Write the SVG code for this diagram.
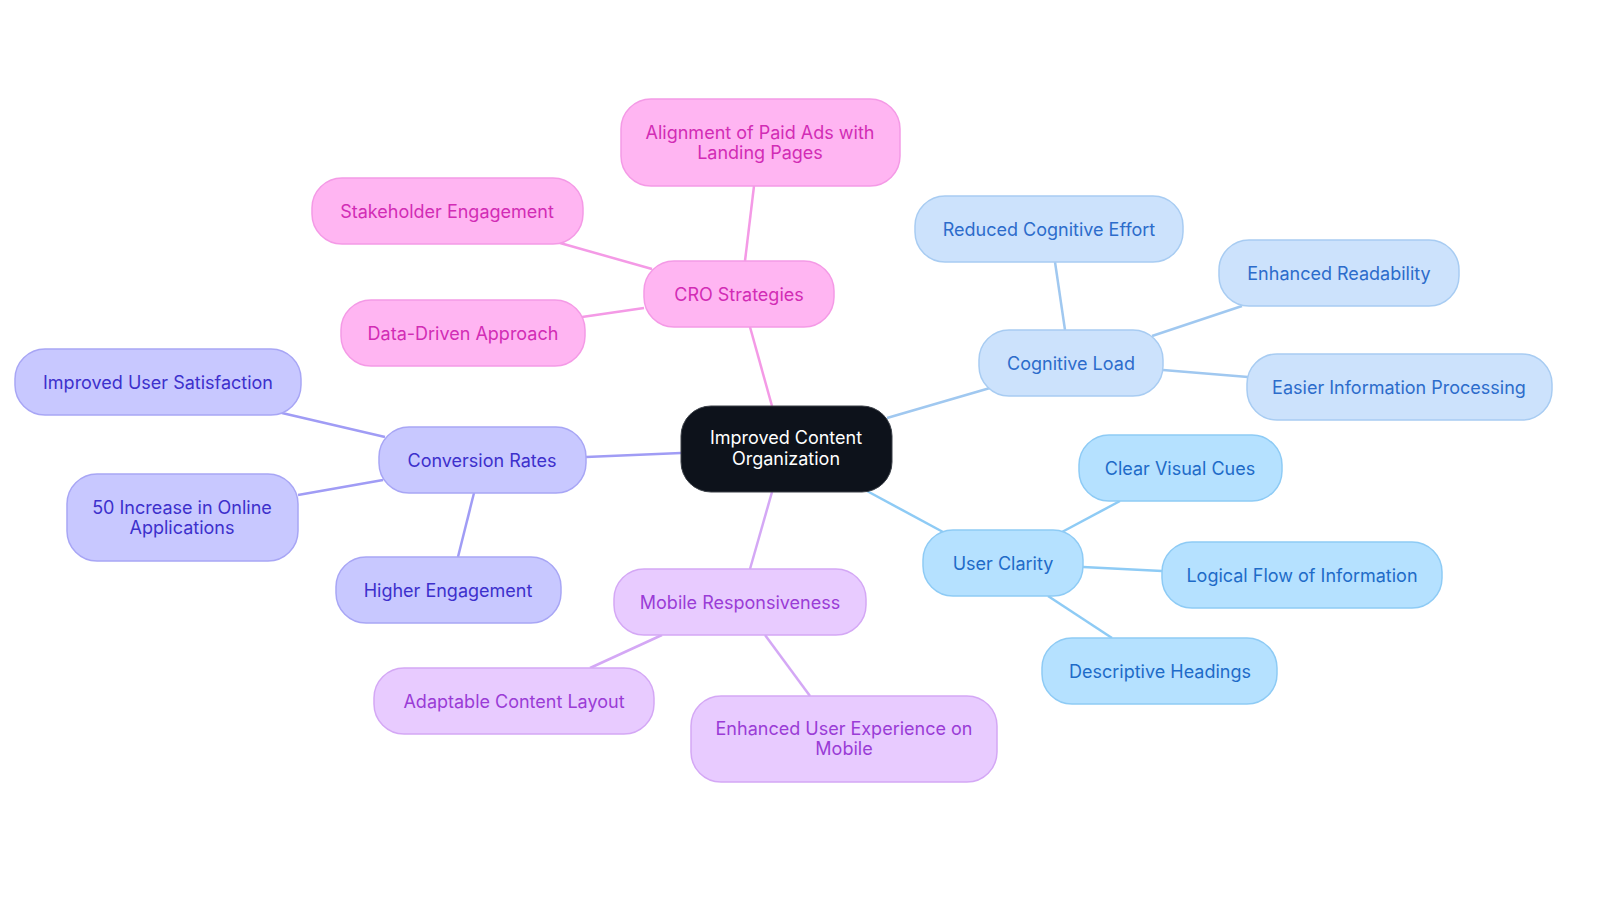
<svg xmlns="http://www.w3.org/2000/svg" width="1600" height="903" viewBox="0 0 1600 903">
<style>
text{font-family:Inter,"Open Sans","Liberation Sans",sans-serif;font-size:18px;text-anchor:middle;dominant-baseline:central}
.e{stroke-width:2.5;fill:none}
.pk rect{fill:#FFB5F2;stroke:#F49AE6;stroke-width:1.5}.pk text{fill:#D22CB5}
.vi rect{fill:#C8C8FF;stroke:#A8A6F5;stroke-width:1.5}.vi text{fill:#3D30CC}
.pu rect{fill:#E8CBFF;stroke:#D4A8F5;stroke-width:1.5}.pu text{fill:#9A3CD6}
.cb rect{fill:#CCE2FC;stroke:#A8CCF2;stroke-width:1.5}.cb text{fill:#2C6CCB}
.ub rect{fill:#B5E1FF;stroke:#8ECBF5;stroke-width:1.5}.ub text{fill:#1E6BC8}
</style>
<g id="connectors">
<g stroke="#F49AE6" class="e"><line x1="772" y1="406" x2="750" y2="327"/><line x1="745" y1="261" x2="754" y2="186"/><line x1="652" y1="269" x2="560" y2="243"/><line x1="644" y1="308" x2="582" y2="317"/></g>
<g stroke="#A09CF5" class="e"><line x1="681" y1="453" x2="586" y2="457"/><line x1="385" y1="437" x2="282" y2="413"/><line x1="383" y1="480" x2="298" y2="495"/><line x1="474" y1="493" x2="458" y2="557"/></g>
<g stroke="#D4A8F5" class="e"><line x1="772" y1="492" x2="750" y2="569"/><line x1="662" y1="635" x2="590" y2="668"/><line x1="765" y1="635" x2="810" y2="696"/></g>
<g stroke="#A0C8F0" class="e"><line x1="887" y1="418" x2="990" y2="388"/><line x1="1065" y1="330" x2="1055" y2="262"/><line x1="1152" y1="336" x2="1242" y2="306"/><line x1="1163" y1="370" x2="1248" y2="377"/></g>
<g stroke="#8ECBF5" class="e"><line x1="867" y1="491" x2="943" y2="532"/><line x1="1062" y1="532" x2="1120" y2="501"/><line x1="1083" y1="567" x2="1162" y2="571"/><line x1="1048" y1="596" x2="1112" y2="638"/></g>
</g>
<g id="center"><rect x="681" y="406" width="211" height="86" rx="30" fill="#0D121B" stroke="#3a3f47" stroke-width="1"/><text x="786" y="437" fill="#fff">Improved Content</text><text x="786" y="458" fill="#fff">Organization</text></g>
<g id="cro" class="pk"><rect x="644" y="261" width="190" height="66" rx="30"/><text x="739" y="294">CRO Strategies</text></g>
<g id="align" class="pk"><rect x="621" y="99" width="279" height="87" rx="30"/><text x="760" y="132">Alignment of Paid Ads with</text><text x="760" y="152">Landing Pages</text></g>
<g id="stake" class="pk"><rect x="312" y="178" width="271" height="66" rx="30"/><text x="447" y="211">Stakeholder Engagement</text></g>
<g id="data" class="pk"><rect x="341" y="300" width="244" height="66" rx="30"/><text x="463" y="333">Data-Driven Approach</text></g>
<g id="conv" class="vi"><rect x="379" y="427" width="207" height="66" rx="30"/><text x="482" y="460">Conversion Rates</text></g>
<g id="sat" class="vi"><rect x="15" y="349" width="286" height="66" rx="30"/><text x="158" y="382">Improved User Satisfaction</text></g>
<g id="fifty" class="vi"><rect x="67" y="474" width="231" height="87" rx="30"/><text x="182" y="507">50 Increase in Online</text><text x="182" y="527">Applications</text></g>
<g id="higher" class="vi"><rect x="336" y="557" width="225" height="66" rx="30"/><text x="448" y="590">Higher Engagement</text></g>
<g id="mobile" class="pu"><rect x="614" y="569" width="252" height="66" rx="30"/><text x="740" y="602">Mobile Responsiveness</text></g>
<g id="adapt" class="pu"><rect x="374" y="668" width="280" height="66" rx="30"/><text x="514" y="701">Adaptable Content Layout</text></g>
<g id="ux" class="pu"><rect x="691" y="696" width="306" height="86" rx="30"/><text x="844" y="728">Enhanced User Experience on</text><text x="844" y="748">Mobile</text></g>
<g id="cog" class="cb"><rect x="979" y="330" width="184" height="66" rx="30"/><text x="1071" y="363">Cognitive Load</text></g>
<g id="reduced" class="cb"><rect x="915" y="196" width="268" height="66" rx="30"/><text x="1049" y="229">Reduced Cognitive Effort</text></g>
<g id="read" class="cb"><rect x="1219" y="240" width="240" height="66" rx="30"/><text x="1339" y="273">Enhanced Readability</text></g>
<g id="easier" class="cb"><rect x="1247" y="354" width="305" height="66" rx="30"/><text x="1399" y="387">Easier Information Processing</text></g>
<g id="clarity" class="ub"><rect x="923" y="530" width="160" height="66" rx="30"/><text x="1003" y="563">User Clarity</text></g>
<g id="cues" class="ub"><rect x="1079" y="435" width="203" height="66" rx="30"/><text x="1180" y="468">Clear Visual Cues</text></g>
<g id="flow" class="ub"><rect x="1162" y="542" width="280" height="66" rx="30"/><text x="1302" y="575">Logical Flow of Information</text></g>
<g id="desc" class="ub"><rect x="1042" y="638" width="235" height="66" rx="30"/><text x="1160" y="671">Descriptive Headings</text></g>
</svg>
